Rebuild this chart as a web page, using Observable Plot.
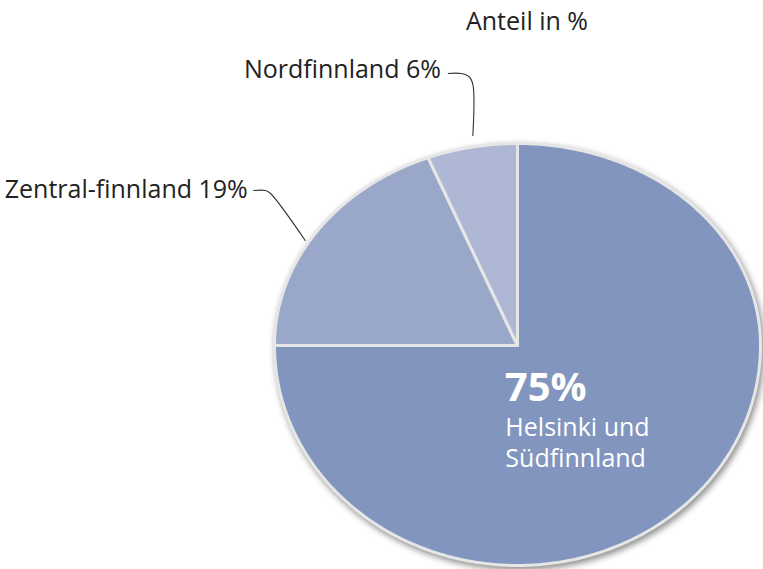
<!DOCTYPE html>
<html>
<head>
<meta charset="utf-8">
<script src="https://cdn.jsdelivr.net/npm/d3@7"></script>
<script src="https://cdn.jsdelivr.net/npm/@observablehq/plot@0.6"></script>
<style>
  html, body { margin: 0; padding: 0; background: #fff; }
  #chart { width: 763px; height: 569px; overflow: hidden; }
</style>
</head>
<body>
<div id="chart"></div>
<script>
// ---- data ----
const categories = ["Helsinki und Südfinnland", "Zentral-finnland", "Nordfinnland"];
const shares = [75, 19, 6];
const colors = ["#8195bf", "#99a8c9", "#aeb8d4"];
const unitLabel = "Anteil in %";

// ---- pie geometry (unit circle, drawn through Plot's x/y scales) ----
const LOWER = 1.089; // the lower half of the reference ellipse is slightly deeper
const arcs = d3.pie().sort(null).value(d => d)(shares);
const piePts = [];
arcs.forEach((a, i) => {
  const name = categories[i];
  piePts.push({name, u: 0, v: 0});
  const n = Math.max(2, Math.ceil((a.endAngle - a.startAngle) / (Math.PI / 360)));
  for (let k = 0; k <= n; k++) {
    const t = a.startAngle + (a.endAngle - a.startAngle) * k / n;
    const c = Math.cos(t);
    piePts.push({name, u: Math.sin(t), v: c < 0 ? c * LOWER : c});
  }
  piePts.push({name, u: 0, v: 0});
});

// leader lines (annotation paths, in the same unit space)
const leaders = [
  {id: "nord", pts: [[-0.285, 1.3465], [-0.2327, 1.3465], [-0.200, 1.3317], [-0.1837, 1.2921], [-0.1837, 1.0396]]},
  {id: "zentral", pts: [[-1.0857, 0.7673], [-1.0367, 0.7673], [-1.0163, 0.7525], [-0.8735, 0.5198]]}
];
const leaderPts = leaders.flatMap(l => l.pts.map(([u, v]) => ({id: l.id, u, v})));

const outerLabels = [
  {text: `${categories[2]} ${shares[2]}%`, u: -0.315, v: 1.365},
  {text: `${categories[1]} ${shares[1]}%`, u: -1.11, v: 0.771}
];
const unitLabels = [{text: unitLabel, u: -0.212, v: 1.599}];
const bigLabels = [{text: `${shares[0]}%`, u: -0.052, v: -0.212}];
const subLabels = [{text: "Helsinki und", u: -0.05, v: -0.41}, {text: "Südfinnland", u: -0.05, v: -0.562}];

const chart = Plot.plot({
  width: 763,
  height: 569,
  marginTop: 0, marginRight: 0, marginBottom: 0, marginLeft: 0,
  style: {fontFamily: "'Open Sans', sans-serif", background: "#fff", color: "#222"},
  x: {domain: [-1, 1], range: [274, 760], axis: null},
  y: {domain: [-LOWER, 1], range: [565, 143], axis: null},
  color: {domain: categories, range: colors},
  marks: [
    Plot.line(piePts, {x: "u", y: "v", z: "name", fill: "name", stroke: "#e6e6e6", strokeWidth: 3, strokeLinejoin: "round", curve: "linear"}),
    Plot.line(leaderPts, {x: "u", y: "v", z: "id", stroke: "#333", strokeWidth: 1.1, curve: "catmull-rom"}),
    Plot.text(outerLabels, {x: "u", y: "v", text: "text", textAnchor: "end", fontSize: 25, fontWeight: 400, fill: "#222"}),
    Plot.text(unitLabels, {x: "u", y: "v", text: "text", textAnchor: "start", fontSize: 25, fontWeight: 400, fill: "#222"}),
    Plot.text(bigLabels, {x: "u", y: "v", text: "text", textAnchor: "start", fontSize: 40, fontWeight: 700, fill: "#fff"}),
    Plot.text(subLabels, {x: "u", y: "v", text: "text", textAnchor: "start", fontSize: 25, fontWeight: 400, fill: "#fff"})
  ]
});
const g = chart.querySelector('g[aria-label="line"]');
if (g) g.style.filter = "drop-shadow(2px 3px 3px rgba(0,0,0,0.45))";
document.getElementById("chart").appendChild(chart);
</script>
</body>
</html>
